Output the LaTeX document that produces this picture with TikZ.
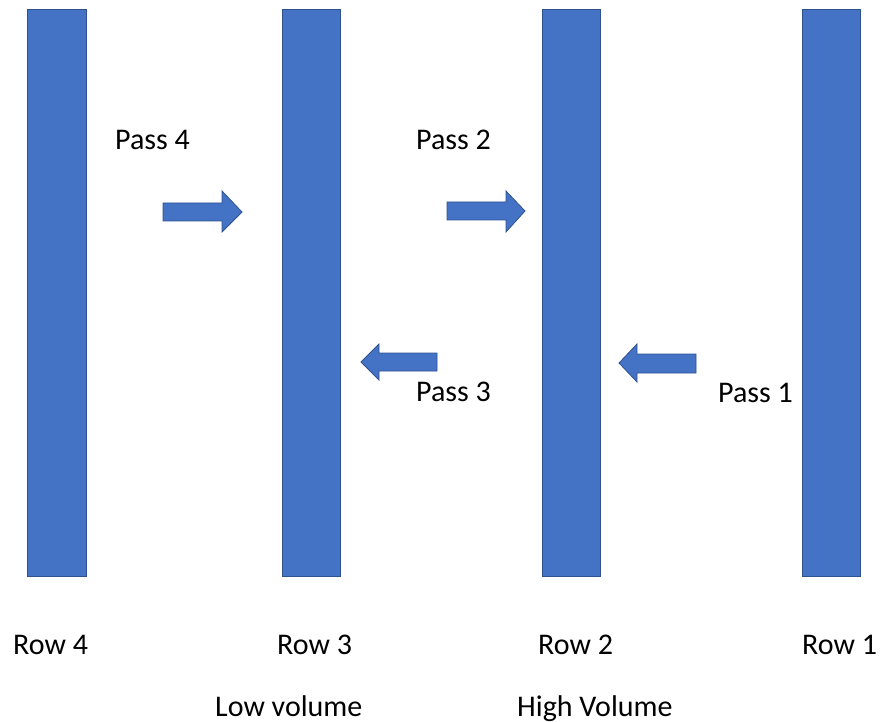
\documentclass[tikz,border=0pt]{standalone}
\usepackage{fontspec}
\setmainfont{Carlito}
\definecolor{barblue}{HTML}{4472C4}
\definecolor{bardark}{HTML}{2F528F}
\begin{document}
\begin{tikzpicture}[x=1pt,y=-1pt,
  barbox/.style={fill=barblue,draw=bardark,line width=1pt},
  blockarrow/.style={fill=barblue,draw=bardark,line width=0.8pt,line join=miter},
  lbl/.style={inner sep=0pt,anchor=base west,font=\fontsize{30}{36}\selectfont}]
\useasboundingbox (0,0) rectangle (881,722);
% bars
\draw[barbox] (27,10) rectangle (86,576);
\draw[barbox] (282,10) rectangle (340,576);
\draw[barbox] (542,10) rectangle (600,576);
\draw[barbox] (802,10) rectangle (860,576);
% right arrows
\draw[blockarrow] (163,203) -- (222,203) -- (222,191) -- (242,212) -- (222,232) -- (222,221) -- (163,221) -- cycle;
\draw[blockarrow] (447,202) -- (506,202) -- (506,191) -- (525,211) -- (506,232) -- (506,220) -- (447,220) -- cycle;
% left arrows
\draw[blockarrow] (437,353) -- (379,353) -- (379,344) -- (361,362) -- (379,380) -- (379,371) -- (437,371) -- cycle;
\draw[blockarrow] (696,354) -- (637,354) -- (637,344) -- (619,363) -- (637,382) -- (637,373) -- (696,373) -- cycle;
% labels
\node[lbl] (p4) at (115,150) {Pass 4};
\node[lbl] (p2) at (416,150) {Pass 2};
\node[lbl] (p3) at (416,401) {Pass 3};
\node[lbl] (p1) at (718,402) {Pass 1};
\node[lbl] (r4) at (13,654) {Row 4};
\node[lbl] (r3) at (277,654) {Row 3};
\node[lbl] (r2) at (538,654) {Row 2};
\node[lbl] (r1) at (802,654) {Row 1};
\node[lbl] (lv) at (215,716) {Low volume};
\node[lbl] (hv) at (517,716) {High Volume};
\end{tikzpicture}
\end{document}
